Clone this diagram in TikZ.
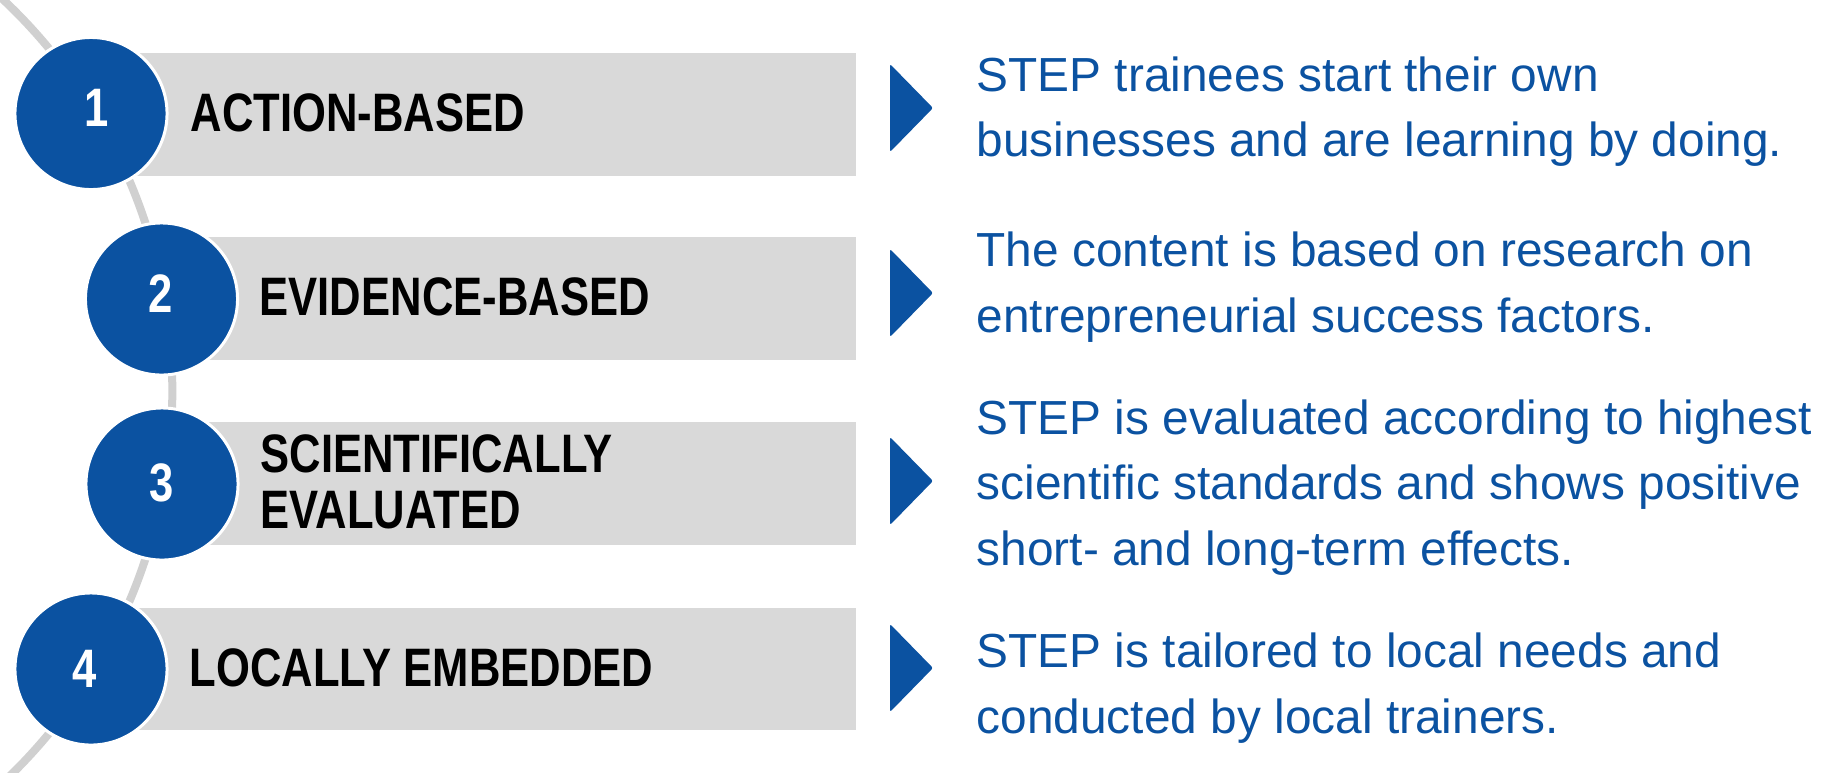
\documentclass[tikz,border=0pt]{standalone}
\usepackage{fontspec}
\setmainfont{Liberation Sans}
\newfontfamily\headfont[FakeStretch=0.805]{Liberation Sans Bold}
\usepackage{tikz}
\usetikzlibrary{positioning}
\definecolor{stepblue}{HTML}{0B52A1}
\definecolor{bargray}{HTML}{D9D9D9}
\definecolor{arcgray}{HTML}{D0D0D0}

\begin{document}
\begin{tikzpicture}[x=0.01cm, y=-0.01cm,
		dot/.style={circle, fill=stepblue, draw=white, line width=0.85pt, minimum size=1.52cm, inner sep=0},
		num/.style={anchor=base, text=white, inner sep=0, font=\headfont\fontsize{15.4}{16}\selectfont},
		head/.style={anchor=base west, align=left, inner sep=0, font=\headfont\fontsize{15.4}{15.65}\selectfont},
		desc/.style={anchor=base west, align=left, inner sep=0, text=stepblue, font=\fontsize{13.6}{18.5}\selectfont},
		bar/.style={fill=bargray},
		tip/.style={fill=stepblue, rounded corners=0.6pt}]
		\useasboundingbox (0,0) rectangle (1827,772);
		\draw [arcgray, line width=0.08cm] (-365,391) ++(-50:5.37cm) arc [start angle=-50, end angle=50, radius=5.37cm];
		\fill [bar] (91,53) rectangle (856,176);
		\fill [bar] (161.5,237) rectangle (856,360);
		\fill [bar] (162,422) rectangle (856,545);
		\fill [bar] (91,608) rectangle (856,730);
		\node [dot](c1) at (91,113.5) {};
		\node [dot](c2) at (161.5,299) {};
		\node [dot](c3) at (162,484) {};
		\node [dot](c4) at (91,669) {};
		\node [num](n1) at (97,126.7) {1};
		\node [num](n2) at (161,312) {2};
		\node [num](n3) at (162,501) {3};
		\node [num](n4) at (85,687) {4};
		\node [head](head1) at (190,131) {ACTION-BASED};
		\node [head](head2) at (259,315) {EVIDENCE-BASED};
		\node [head](head3) at (260,528) {SCIENTIFICALLY\\EVALUATED};
		\node [head](head4) at (189,686) {LOCALLY EMBEDDED};
		\fill [tip] (890,64) -- (933,108) -- (890,152) -- cycle;
		\fill [tip] (890,249) -- (933,293) -- (890,337) -- cycle;
		\fill [tip] (890,437) -- (933,481) -- (890,525) -- cycle;
		\fill [tip] (890,624) -- (933,668) -- (890,712) -- cycle;
		\node [desc](desc1) at (976,156.7) {STEP trainees start their own\\businesses and are learning by doing.};
		\node [desc](desc2) at (976,332) {The content is based on research on\\entrepreneurial success factors.};
		\node [desc](desc3) at (976,565) {STEP is evaluated according to highest\\scientific standards and shows positive\\short- and long-term effects.};
		\node [desc](desc4) at (976,733) {STEP is tailored to local needs and\\conducted by local trainers.};
\end{tikzpicture}
\end{document}
